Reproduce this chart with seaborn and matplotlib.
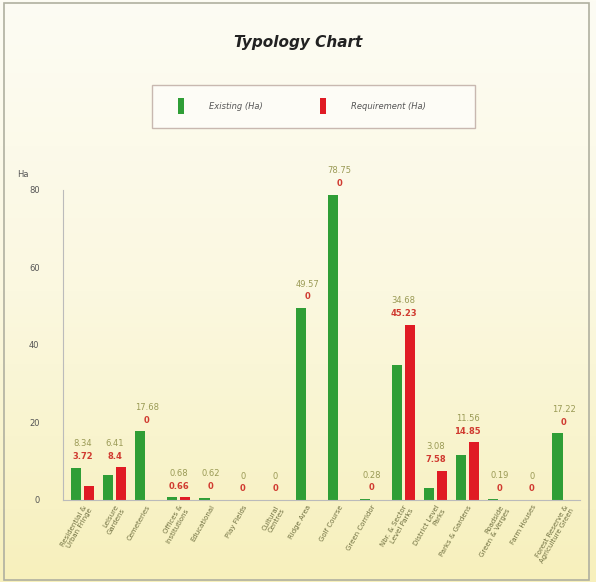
import numpy as np
import pandas as pd
import seaborn as sns
import matplotlib.pyplot as plt
from matplotlib.patches import Rectangle, Patch
from matplotlib.colors import LinearSegmentedColormap

sns.set_style("white")

categories = [
    "Residential &\nUrban Fringe", "Leisure\nGardens", "Cemeteries",
    "Offices &\nInstitutions", "Educational", "Play Fields",
    "Cultural\nCentres", "Ridge Area", "Golf Course", "Green Corridor",
    "Nbr. & Sector\nLevel Parks", "District Level\nParks", "Parks & Gardens",
    "Roadside\nGreen & Verges", "Farm Houses", "Forest Reserve &\nAgriculture Green",
]
existing = [8.34, 6.41, 17.68, 0.68, 0.62, 0, 0, 49.57, 78.75, 0.28,
            34.68, 3.08, 11.56, 0.19, 0, 17.22]
requirement = [3.72, 8.4, 0, 0.66, 0, 0, 0, 0, 0, 0,
               45.23, 7.58, 14.85, 0, 0, 0]
series = ["Existing (Ha)", "Requirement (Ha)"]
yticks = [0, 20, 40, 60, 80]

df = pd.DataFrame({
    "category": categories * 2,
    "value": existing + requirement,
    "series": [series[0]] * len(categories) + [series[1]] * len(categories),
})

green = "#2f9e36"
red = "#e01b24"

fig = plt.figure(figsize=(5.96, 5.82), dpi=100)

# background gradient + outer frame
bg = fig.add_axes([0, 0, 1, 1], zorder=-10)
grad = np.linspace(0, 1, 256).reshape(-1, 1)
cmap = LinearSegmentedColormap.from_list("bg", ["#fdfcf4", "#fbf8e0", "#f7f0bc"])
bg.imshow(grad, aspect="auto", cmap=cmap, extent=[0, 1, 0, 1], origin="upper")
bg.axis("off")
fig.patches.append(Rectangle((0.006, 0.004), 0.983, 0.99, transform=fig.transFigure,
                             fill=False, edgecolor="#b0b0a0", linewidth=1.2))

ax = fig.add_axes([0.106, 0.141, 0.867, 0.533])
ax.patch.set_alpha(0)

sns.barplot(data=df, x="category", y="value", hue="series", palette=[green, red],
            saturation=1, width=0.8, gap=0.2, linewidth=0, ax=ax, legend=False)

ax.set_ylim(0, 80)
ax.set_xlim(-0.6, len(categories) - 0.5)
ax.set_yticks(yticks)
ax.tick_params(axis="y", labelsize=6, colors="#555555", length=3, width=0.5, pad=14)
ax.tick_params(axis="x", length=0, pad=3)
ax.set_xticks(range(len(categories)))
ax.set_xticklabels(categories, rotation=60, ha="right", rotation_mode="anchor",
                   fontsize=5, color="#6f6f40")
ax.set_xlabel("")
ax.set_ylabel("")
for s in ["top", "right"]:
    ax.spines[s].set_visible(False)
for s in ["left", "bottom"]:
    ax.spines[s].set_color("#bbbbbb")
    ax.spines[s].set_linewidth(0.8)

ax.text(-0.09, 1.05, "Ha", transform=ax.transAxes, fontsize=6, color="#555555",
        ha="left", va="center")

for i, (e, r) in enumerate(zip(existing, requirement)):
    top = max(e, r)
    ax.annotate(f"{e:g}", (i, top), xytext=(0, 17), textcoords="offset points",
                ha="center", va="center", fontsize=6, color="#9a9a55",
                annotation_clip=False)
    ax.annotate(f"{r:g}", (i, top), xytext=(0, 8), textcoords="offset points",
                ha="center", va="center", fontsize=6, color="#d03a30",
                fontweight="bold", annotation_clip=False)

fig.text(0.5, 1 - 42 / 582, "Typology Chart", ha="center", va="center",
         fontsize=11, fontweight="bold", fontstyle="italic", color="#222222")

# legend box
fig.patches.append(Rectangle((152 / 596, 1 - 128 / 582), 323 / 596, 43 / 582,
                             transform=fig.transFigure, facecolor="#fdfcf6",
                             edgecolor="#c8b8b0", linewidth=1, zorder=1))
handles = [Patch(facecolor=green, edgecolor="none"), Patch(facecolor=red, edgecolor="none")]
leg = fig.legend(handles, series, loc="center", ncol=2,
                 bbox_to_anchor=(302 / 596, 1 - 106 / 582),
                 frameon=False, handlelength=0.8, handleheight=2.4,
                 handletextpad=3, columnspacing=6.8, fontsize=6)
for t in leg.get_texts():
    t.set_fontstyle("italic")
    t.set_color("#555555")

fig.savefig("out.png", dpi=100)
